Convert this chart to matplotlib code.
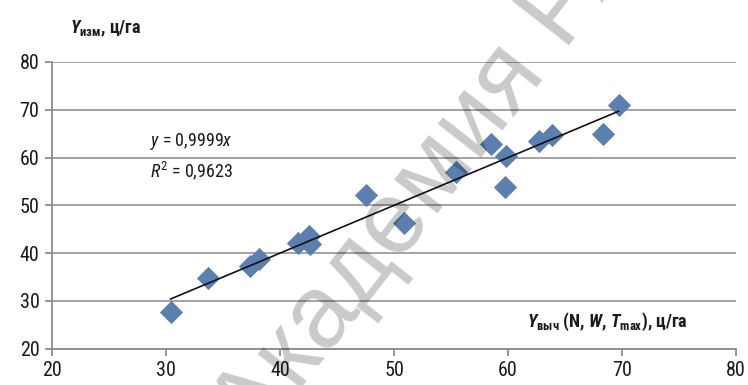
import matplotlib
matplotlib.use("Agg")
import matplotlib.pyplot as plt
import numpy as np

# ---- data ----
x_calc = [30.4, 33.7, 37.4, 38.2, 41.6, 42.5, 42.6, 47.5, 50.9, 55.4,
          58.5, 59.8, 59.7, 62.7, 63.9, 68.3, 69.7]
y_meas = [27.6, 34.8, 37.3, 38.7, 42.1, 43.5, 42.0, 52.1, 46.3, 57.0,
          62.8, 60.3, 53.8, 63.5, 64.8, 64.9, 71.1]
slope = 0.9999
r2 = 0.9623
x_ticks = [20, 30, 40, 50, 60, 70, 80]
y_ticks = [20, 30, 40, 50, 60, 70, 80]

FONT = ['Liberation Sans Narrow', 'Roboto Condensed', 'DejaVu Sans Condensed',
        'Roboto', 'DejaVu Sans']
plt.rcParams['font.family'] = FONT
plt.rcParams['mathtext.fontset'] = 'custom'
plt.rcParams['mathtext.rm'] = 'Roboto Condensed'
plt.rcParams['mathtext.it'] = 'Roboto Condensed:italic'
plt.rcParams['mathtext.bf'] = 'Roboto Condensed:bold'
plt.rcParams['mathtext.bfit'] = 'Roboto Condensed:bold:italic'

fig = plt.figure(figsize=(7.48, 3.85), dpi=100)
ax = fig.add_axes([0.0695, 0.0943, 0.9145, 0.7447])

ax.set_xlim(20, 80)
ax.set_ylim(20, 80)
ax.set_xticks(x_ticks)
ax.set_yticks(y_ticks)
ax.grid(axis='y', color='#a3a3a3', lw=1.4)
ax.set_axisbelow(True)
for s in ['top', 'right']:
    ax.spines[s].set_visible(False)
for s in ['left', 'bottom']:
    ax.spines[s].set_color('#8c8c8c')
    ax.spines[s].set_linewidth(1.3)
ax.tick_params(axis='both', colors='#8c8c8c', length=5, width=1.3,
               labelsize=14.5, labelcolor='#1a1a1a')
ax.tick_params(axis='x', pad=4)
ax.tick_params(axis='y', pad=4)

ax.scatter(x_calc, y_meas, marker='D', s=140, color='#5b7fae', zorder=3,
           linewidths=0)
xl = np.array([min(x_calc), max(x_calc)])
ax.plot(xl, slope * xl, color='#111111', lw=1.2, zorder=4)

ax.text(150/748, 1 - 142/385, r'$\mathit{y}$ = 0,9999$\mathit{x}$',
        transform=fig.transFigure, fontsize=13, va='center', ha='left',
        color='#1a1a1a')
ax.text(150/748, 1 - 171/385, r'$\mathit{R}^{2}$ = 0,9623',
        transform=fig.transFigure, fontsize=13, va='center', ha='left',
        color='#1a1a1a')

fig.text(70/748, 1 - 29/385, r'$\mathbfit{Y}_{\mathbf{изм}}$, ц/га',
         fontsize=13, weight='bold', va='center', ha='left', color='#1a1a1a')
fig.text(688/748, 1 - 322/385,
         r'$\mathbfit{Y}_{\mathbf{выч}}$ (N, $\mathbfit{W}$, $\mathbfit{T}_{\mathbf{max}}$), ц/га',
         fontsize=13, weight='bold', va='center', ha='right', color='#1a1a1a')

# watermark
fig.text(255/748, 1 - 447/385, 'Академия РАЕ', fontsize=74,
         family=['Liberation Sans', 'DejaVu Sans'], color='black', alpha=0.21,
         rotation=52, rotation_mode='anchor', ha='left', va='baseline',
         zorder=10)

fig.savefig('out.png', dpi=100)
